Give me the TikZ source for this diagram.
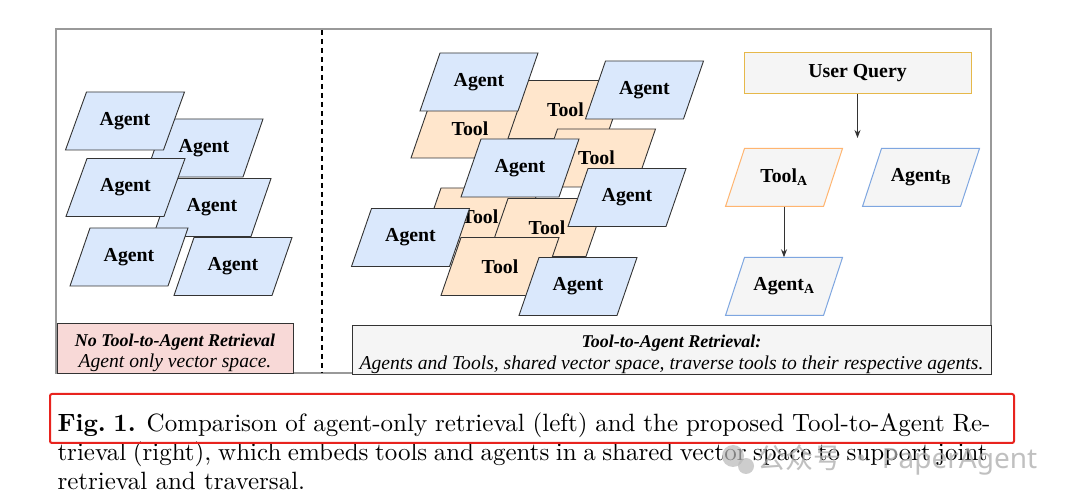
\documentclass[tikz,border=0pt]{standalone}
\usepackage{fontspec}
\newfontfamily\tnr{Liberation Serif}
\newfontfamily\cjk{Noto Sans CJK SC}
\newfontfamily\wmsans{Noto Sans}
\usetikzlibrary{arrows.meta}

\definecolor{agentfill}{HTML}{DAE8FC}
\definecolor{toolfill}{HTML}{FFE6CC}
\definecolor{pinkfill}{HTML}{F8D9D7}
\definecolor{grayfill}{HTML}{F5F5F5}
\definecolor{edge}{HTML}{333333}
\definecolor{frameedge}{HTML}{999999}
\definecolor{uqedge}{HTML}{E6B84A}
\definecolor{toolAedge}{HTML}{FFB570}
\definecolor{agentAedge}{HTML}{7EA6E0}
\definecolor{hlred}{HTML}{E8231E}

\tikzset{
  agentpar/.style={fill=agentfill, draw=edge, line width=0.9pt},
  toolpar/.style={fill=toolfill, draw=edge, line width=0.9pt},
  lbl/.style={font=\tnr\bfseries\fontsize{19.8}{22}\selectfont, inner sep=0pt,
              minimum width=98pt, minimum height=58pt, text=black},
  notebox/.style={draw=edge, line width=0.9pt, inner sep=0pt, align=center,
              font=\tnr\fontsize{18}{22}\selectfont},
  arr/.style={draw=edge, line width=1pt, -{Stealth[length=8pt,width=6pt]}},
  capt/.style={font=\fontsize{10}{12}\selectfont, scale=2.5, inner sep=0pt, anchor=base west},
}

% #1 style, #2 name, #3 cx, #4 cy, #5 slant, #6 text
\newcommand\paragon[6]{%
  \path[#1] (#3-49+#5/2,#4-29) -- (#3+49+#5/2,#4-29) -- (#3+49-#5/2,#4+29) -- (#3-49-#5/2,#4+29) -- cycle;
  \node[lbl] (#2) at (#3,#4) {#6};
}

\begin{document}
\begin{tikzpicture}[x=1pt,y=-1pt]
\useasboundingbox (0,0) rectangle (1080,502);
\fill[white] (0,0) rectangle (1080,502);

% frame and divider
\draw[frameedge, line width=1.2pt] (56,29) rectangle (991,373);
\draw[black, line width=1.5pt, dash pattern=on 5pt off 4pt] (322,30) -- (322,373);

% left panel: agent-only space
\paragon{agentpar}{l2}{204}{148}{20}{Agent}
\paragon{agentpar}{l1}{125}{121}{21}{Agent}
\paragon{agentpar}{l4}{212}{207.5}{20}{Agent}
\paragon{agentpar}{l3}{125.5}{187.5}{21}{Agent}
\paragon{agentpar}{l6}{233}{266.5}{20}{Agent}
\paragon{agentpar}{l5}{129}{257}{20}{Agent}

\node[notebox, fill=pinkfill, minimum width=236pt, minimum height=50pt, text depth=0pt] (nobox) at (175,348)
  {\raisebox{-5pt}{\textbf{\textit{No Tool-to-Agent Retrieval}}}\\[-1pt]
   \raisebox{-5pt}{\fontsize{19.6}{22}\selectfont\textit{Agent only vector space.}}};

% right panel: shared space
\paragon{toolpar}{t1}{470}{129}{20}{Tool}
\paragon{toolpar}{t2}{567}{109.5}{20}{\hspace*{-3pt}Tool}
\paragon{agentpar}{r1}{479}{82}{20}{Agent}
\paragon{toolpar}{t3}{596.5}{158}{20}{Tool}
\paragon{agentpar}{r2}{644.5}{90}{20}{Agent}
\paragon{toolpar}{t4}{480}{217}{20}{Tool}
\paragon{toolpar}{t5}{547}{227.5}{20}{Tool}
\paragon{toolpar}{t6}{500}{266.5}{20}{Tool}
\paragon{agentpar}{r3}{520}{168}{20}{Agent}
\paragon{agentpar}{r4}{627}{197.5}{20}{Agent}
\paragon{agentpar}{r5}{410.5}{237.5}{20}{Agent}
\paragon{agentpar}{r6}{578}{286.5}{20}{Agent}

% query flow
\node[draw=uqedge, fill=grayfill, line width=1pt, minimum width=227pt, minimum height=41pt,
      inner sep=0pt, font=\tnr\bfseries\fontsize{19.8}{22}\selectfont] (uq) at (857.5,73.5) {User Query};
\coordinate (uqend) at (857.5,138);
\paragon{fill=grayfill, draw=toolAedge, line width=1pt}{ta}{784}{177.5}{19}{Tool\textsubscript{A}}
\paragon{fill=grayfill, draw=agentAedge, line width=1pt}{ab}{921}{177.5}{19}{Agent\textsubscript{B}}
\paragon{fill=grayfill, draw=agentAedge, line width=1pt}{aa}{784}{286.5}{19}{Agent\textsubscript{A}}
\draw[arr] (uq.south) -- (uqend);
\draw[arr] (ta.south) -- (aa.north);

\node[notebox, fill=grayfill, minimum width=639pt, minimum height=49pt, text depth=0pt] (tabox) at (671.5,349.5)
  {\raisebox{-4pt}{\textbf{\textit{Tool-to-Agent Retrieval:}}}\\[-1pt]
   \raisebox{-5pt}{\fontsize{19.6}{22}\selectfont\textit{Agents and Tools, shared vector space, traverse tools to their respective agents.}}};

% caption
\node[capt] (cap1) at (57,432) {\makebox[373.2pt][s]{\textbf{Fig.\kern0.3em1.} Comparison of agent-only retrieval (left) and the proposed Tool-to-Agent Re-}};
\node[capt] (cap2) at (57,461) {\makebox[372pt][s]{trieval (right), which embeds tools and agents in a shared vector space to support joint}};
\node[capt] (cap3) at (57,490) {retrieval and traversal.};

\node[draw=hlred, line width=2pt, rounded corners=2pt, minimum width=964pt, minimum height=49pt,
      inner sep=0pt] (redbox) at (532,418.5) {};

% watermark
\fill[gray!55, opacity=0.7] (733,456) circle[radius=11];
\fill[gray!55, opacity=0.7] (746,466) circle[radius=8];
\node[text=gray!65, opacity=0.75, anchor=west, inner sep=0pt, font=\cjk\fontsize{28}{30}\selectfont] (wm) at (757,460)
  {公众号 · {\wmsans PaperAgent}};
\end{tikzpicture}
\end{document}
